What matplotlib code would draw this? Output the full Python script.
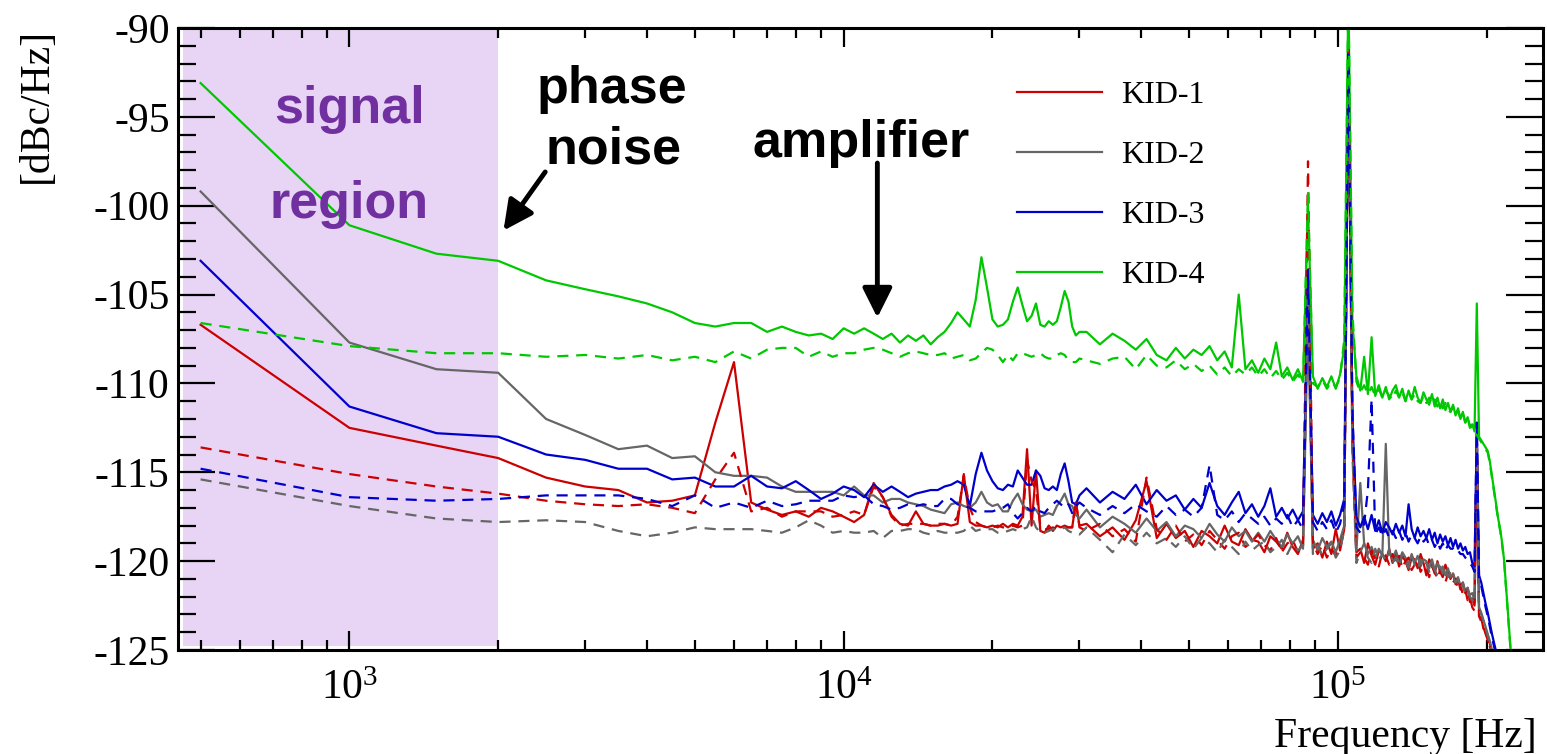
import numpy as np
import matplotlib
matplotlib.use("Agg")
import matplotlib.pyplot as plt
from matplotlib.ticker import MultipleLocator, LogLocator, NullFormatter, FixedLocator, FixedFormatter
from matplotlib.lines import Line2D

plt.rcParams['font.family'] = ['Liberation Serif', 'DejaVu Serif']
plt.rcParams['mathtext.fontset'] = 'custom'
plt.rcParams['mathtext.rm'] = 'Liberation Serif'
plt.rcParams['mathtext.it'] = 'Liberation Serif:italic'
plt.rcParams['mathtext.bf'] = 'Liberation Serif:bold'
plt.rcParams['axes.unicode_minus'] = False

# ---------------------------------------------------------------- data
# frequency grid [Hz]: 500 Hz bins up to 30 kHz, 2 kHz bins above
freq_low = np.arange(500, 30001, 500)
freq_high = np.arange(31000, 250000, 2000)

series_labels = ["KID-1", "KID-2", "KID-3", "KID-4"]
x_tick_values = [1e3, 1e4, 1e5]
x_tick_labels = [r"$10^{3}$", r"$10^{4}$", r"$10^{5}$"]

# noise spectra [dBc/Hz]; solid = on resonance, dashed = off resonance
kid1_solid_low = [
    -106.7, -112.5, -113.5, -114.2, -115.3, -115.8, -116.0, -116.7, -116.6, -116.3,
    -112.2, -108.8, -116.7, -117.1, -117.4, -117.2, -117.5, -117.0, -117.2, -117.5,
    -117.8, -117.4, -115.6, -116.4, -117.4, -117.9, -118.0, -117.2, -117.9, -118.0,
    -118.0, -117.9, -118.0, -117.9, -115.1, -117.8, -118.0, -118.0, -118.1, -118.0,
    -118.1, -117.9, -118.1, -117.9, -118.0, -117.5, -113.7, -118.0, -114.9, -118.3,
    -118.4, -118.0, -118.3, -118.0, -118.1, -118.0, -118.1, -118.1, -116.7, -118.0]
kid1_solid_high = [
    -117.9, -118.6, -118.1, -118.8, -117.7, -115.5, -118.7, -117.9, -118.7, -118.3,
    -119.2, -118.3, -118.6, -119.0, -118.0, -118.9, -119.1, -118.2, -118.8, -118.9,
    -119.5, -118.6, -118.9, -119.3, -118.4, -119.2, -119.6, -118.8, -104.5, -119.3,
    -119.0, -119.8, -118.9, -119.6, -118.2, -119.4, -118.2, -91.5, -113.5, -119.5,
    -119.3, -120.1, -119.0, -119.7, -120.2, -119.4, -119.6, -120.0, -119.3, -120.1,
    -119.5, -120.3, -119.7, -120.0, -120.5, -119.8, -119.9, -120.4, -119.6, -120.1,
    -120.8, -119.9, -120.2, -120.7, -120.0, -120.6, -120.9, -120.2, -120.6, -121.0,
    -120.7, -121.3, -121.0, -121.6, -121.2, -121.8, -121.5, -122.3, -122.1, -122.5,
    -113.5, -123.1, -123.2, -123.8, -123.9, -124.5, -124.6, -125.3, -125.6, -126.1,
    -126.7, -127.3, -127.9, -128.5, -129.1, -129.7, -130.3, -130.9, -131.5, -132.1,
    -132.7, -133.3, -133.9, -134.5, -135.1, -135.7, -136.3, -136.9, -137.5, -138.1]
kid1_dash_low = [
    -113.6, -115.1, -115.8, -116.2, -116.6, -116.8, -116.9, -116.8, -117.0, -117.3,
    -115.4, -113.9, -117.2, -117.0, -117.5, -117.2, -117.2, -117.2, -117.5, -117.4,
    -117.2, -117.4, -115.8, -116.4, -117.5, -118.0, -117.9, -117.9, -117.9, -118.0,
    -117.9, -117.9, -118.0, -117.5, -115.2, -117.0, -117.8, -118.0, -118.1, -118.1,
    -118.0, -118.1, -118.1, -118.0, -118.1, -118.0, -114.3, -115.5, -116.0, -118.0,
    -118.2, -118.2, -118.1, -118.2, -118.1, -118.1, -118.1, -118.1, -116.6, -118.1]
kid1_dash_high = [
    -118.3, -117.9, -118.6, -118.2, -118.9, -115.3, -118.2, -118.8, -118.0, -118.9,
    -118.5, -119.1, -118.3, -118.8, -119.3, -118.6, -118.4, -119.2, -118.9, -118.5,
    -119.1, -119.4, -118.7, -119.5, -119.0, -118.8, -119.5, -119.2, -97.5, -119.0,
    -119.6, -119.1, -119.8, -119.3, -119.7, -119.1, -118.3, -91.2, -113.0, -119.8,
    -119.5, -119.8, -120.2, -119.4, -119.9, -120.3, -119.5, -119.7, -120.2, -119.6,
    -120.1, -119.7, -120.4, -120.0, -119.8, -120.5, -120.2, -119.9, -120.6, -120.3,
    -120.4, -120.9, -120.3, -120.6, -121.0, -120.5, -120.8, -121.2, -120.7, -121.1,
    -121.2, -121.0, -121.6, -121.3, -121.9, -121.6, -122.2, -122.0, -122.6, -122.8,
    -113.0, -123.1, -123.4, -123.7, -124.1, -124.4, -124.8, -125.2, -125.7, -126.2,
    -126.8, -127.4, -128.0, -128.6, -129.2, -129.8, -130.4, -131.0, -131.6, -132.2,
    -132.8, -133.4, -134.0, -134.6, -135.2, -135.8, -136.4, -137.0, -137.6, -138.2]

kid2_solid_low = [
    -99.2, -107.7, -109.2, -109.4, -112.0, -112.9, -113.7, -113.5, -114.2, -114.1,
    -115.0, -115.2, -115.2, -115.3, -115.8, -116.1, -116.1, -116.1, -116.1, -116.3,
    -115.8, -116.3, -116.3, -116.7, -116.5, -116.5, -116.7, -116.8, -116.9, -117.1,
    -117.2, -117.3, -116.8, -116.7, -116.9, -117.0, -116.7, -116.1, -116.7, -116.9,
    -116.8, -117.2, -117.2, -116.6, -116.2, -116.8, -117.1, -117.2, -117.1, -117.5,
    -117.4, -117.3, -117.4, -116.9, -116.6, -116.2, -116.8, -116.9, -117.4, -117.6]
kid2_solid_high = [
    -117.1, -118.1, -117.5, -117.9, -118.4, -117.6, -118.3, -117.8, -118.6, -118.0,
    -118.2, -118.7, -117.9, -118.5, -118.9, -118.1, -118.6, -118.3, -118.9, -118.4,
    -118.9, -118.3, -118.8, -119.2, -118.5, -119.0, -118.6, -119.3, -106.0, -118.8,
    -119.4, -118.7, -119.2, -118.9, -119.5, -118.8, -118.0, -91.8, -113.0, -119.4,
    -115.6, -119.0, -119.6, -119.2, -119.8, -119.3, -119.7, -113.4, -119.5, -119.9,
    -119.4, -120.0, -119.5, -119.8, -120.2, -119.6, -120.1, -119.7, -120.3, -119.9,
    -120.0, -120.4, -119.9, -120.5, -120.1, -120.6, -120.3, -120.8, -120.4, -120.9,
    -120.7, -121.1, -120.9, -121.4, -121.2, -121.7, -121.5, -121.9, -121.8, -122.2,
    -112.8, -122.6, -122.9, -123.3, -123.7, -124.1, -124.5, -125.0, -125.5, -126.0,
    -126.6, -127.2, -127.8, -128.4, -129.0, -129.6, -130.2, -130.8, -131.4, -132.0,
    -132.6, -133.2, -133.8, -134.4, -135.0, -135.6, -136.2, -136.8, -137.4, -138.0]
kid2_dash_low = [
    -115.4, -116.9, -117.6, -117.8, -117.7, -117.8, -118.3, -118.6, -118.4, -118.1,
    -118.2, -118.2, -118.2, -118.3, -118.4, -118.1, -117.7, -118.0, -118.4, -118.3,
    -118.4, -118.4, -118.3, -118.7, -118.3, -118.3, -118.2, -118.2, -118.4, -118.5,
    -118.3, -118.4, -118.4, -118.4, -118.3, -118.0, -118.3, -118.2, -118.2, -118.2,
    -118.4, -118.4, -118.3, -118.2, -118.3, -118.2, -118.1, -117.5, -118.1, -118.4,
    -118.4, -118.3, -118.2, -118.2, -118.2, -118.1, -118.3, -118.4, -118.4, -118.5]
kid2_dash_high = [
    -118.1, -118.8, -119.5, -118.5, -119.1, -118.4, -119.0, -118.7, -119.2, -118.6,
    -119.3, -118.7, -119.0, -119.5, -118.8, -119.2, -119.6, -118.9, -119.4, -119.1,
    -118.9, -119.5, -119.2, -118.8, -119.6, -119.0, -119.4, -119.1, -105.0, -119.6,
    -119.1, -119.7, -119.3, -119.0, -119.8, -119.4, -118.2, -91.8, -114.0, -120.1,
    -119.5, -119.0, -119.8, -120.1, -119.3, -119.9, -119.6, -120.0, -119.4, -120.1,
    -119.8, -120.3, -119.6, -120.0, -120.4, -119.7, -120.2, -120.5, -119.9, -120.3,
    -120.1, -120.6, -120.2, -120.5, -120.8, -120.3, -120.7, -120.4, -120.9, -120.6,
    -120.9, -121.2, -121.0, -121.5, -121.3, -121.8, -121.6, -122.0, -122.2, -122.4,
    -112.9, -122.7, -123.0, -123.4, -123.8, -124.2, -124.6, -125.1, -125.6, -126.1,
    -126.7, -127.3, -127.9, -128.5, -129.1, -129.7, -130.3, -130.9, -131.5, -132.1,
    -132.7, -133.3, -133.9, -134.5, -135.1, -135.7, -136.3, -136.9, -137.5, -138.1]

kid3_solid_low = [
    -103.1, -111.3, -112.8, -113.0, -114.0, -114.3, -114.8, -114.8, -115.4, -115.3,
    -115.8, -115.8, -115.2, -115.8, -115.9, -115.5, -116.0, -116.5, -116.2, -115.8,
    -116.0, -116.4, -115.7, -116.1, -115.8, -116.1, -116.4, -116.2, -116.1, -116.0,
    -116.0, -115.8, -115.7, -115.5, -115.7, -116.9, -115.1, -113.9, -114.9, -115.5,
    -115.9, -116.0, -115.7, -115.8, -114.9, -115.3, -115.7, -115.7, -114.9, -115.2,
    -115.9, -116.0, -115.8, -116.0, -115.1, -114.5, -115.5, -116.7, -116.8, -116.3]
kid3_solid_high = [
    -115.9, -116.7, -116.1, -116.5, -115.7, -116.8, -116.0, -116.6, -116.3, -117.1,
    -116.5, -117.0, -115.6, -116.9, -117.4, -116.7, -116.1, -117.3, -116.8, -117.5,
    -116.9, -115.9, -117.5, -117.0, -117.6, -117.1, -117.7, -117.2, -104.2, -117.4,
    -117.9, -117.3, -117.8, -117.2, -118.0, -117.4, -116.5, -91.5, -112.0, -117.5,
    -118.1, -117.5, -118.2, -117.4, -118.3, -117.7, -118.4, -117.8, -118.1, -118.5,
    -117.9, -118.4, -118.0, -118.6, -116.8, -118.2, -118.7, -118.1, -118.6, -118.3,
    -118.7, -118.2, -118.8, -118.4, -119.0, -118.5, -118.9, -118.6, -119.1, -118.7,
    -119.2, -118.8, -119.3, -119.0, -119.4, -119.2, -119.6, -119.5, -120.1, -120.3,
    -112.5, -120.8, -121.2, -121.8, -122.4, -122.9, -123.5, -124.1, -124.6, -125.1,
    -125.7, -126.3, -127.0, -127.7, -128.4, -129.0, -129.7, -130.4, -131.0, -131.7,
    -132.4, -133.1, -133.8, -134.5, -135.2, -135.9, -136.6, -137.3, -138.0, -138.7]
kid3_dash_low = [
    -114.8, -116.4, -116.6, -116.5, -116.3, -116.3, -116.3, -116.5, -116.9, -116.3,
    -117.0, -116.7, -117.0, -116.6, -116.9, -116.8, -116.6, -116.6, -116.6, -116.3,
    -116.4, -116.3, -116.8, -116.9, -117.1, -117.0, -116.8, -116.9, -116.8, -116.9,
    -116.9, -116.5, -116.5, -116.8, -116.9, -117.0, -117.2, -117.2, -117.2, -117.2,
    -117.1, -117.0, -116.8, -117.3, -117.6, -117.3, -117.0, -117.2, -116.9, -117.2,
    -117.3, -117.0, -116.8, -116.6, -116.8, -117.0, -116.8, -117.3, -116.9, -116.7]
kid3_dash_high = [
    -117.0, -117.4, -116.9, -117.3, -116.8, -117.2, -117.5, -116.9, -117.4, -117.1,
    -117.5, -117.0, -114.6, -117.4, -117.7, -117.2, -117.8, -117.3, -117.6, -117.9,
    -117.5, -118.0, -117.6, -117.9, -117.4, -118.1, -117.7, -118.2, -103.5, -117.8,
    -118.3, -117.8, -118.2, -117.7, -118.4, -117.9, -116.8, -91.5, -111.5, -118.1,
    -118.4, -117.9, -116.0, -110.9, -118.5, -118.1, -118.6, -118.2, -118.7, -118.3,
    -118.7, -118.3, -118.8, -118.4, -118.9, -118.5, -118.7, -119.0, -118.6, -118.9,
    -118.7, -119.1, -118.8, -119.2, -118.9, -119.3, -119.0, -119.4, -119.1, -119.3,
    -119.3, -119.5, -119.4, -119.6, -119.6, -119.8, -119.9, -120.1, -120.3, -120.6,
    -112.2, -121.0, -121.4, -122.0, -122.6, -123.1, -123.7, -124.3, -124.8, -125.3,
    -125.9, -126.5, -127.2, -127.9, -128.6, -129.2, -129.9, -130.6, -131.2, -131.9,
    -132.6, -133.3, -134.0, -134.7, -135.4, -136.1, -136.8, -137.5, -138.2, -138.9]

kid4_solid_low = [
    -93.1, -101.1, -102.7, -103.1, -104.2, -104.7, -105.1, -105.5, -106.0, -106.6,
    -106.8, -106.6, -106.6, -107.1, -106.8, -107.1, -107.3, -107.2, -107.5, -106.9,
    -107.2, -106.9, -107.2, -107.5, -107.2, -107.7, -107.3, -107.6, -107.3, -107.8,
    -107.4, -107.1, -106.6, -106.0, -106.4, -106.8, -105.3, -102.9, -104.6, -106.4,
    -106.8, -106.7, -106.4, -105.4, -104.6, -105.6, -106.5, -106.2, -105.5, -106.7,
    -106.8, -106.5, -106.7, -106.5, -105.7, -104.8, -105.4, -106.8, -107.3, -107.1]
kid4_solid_high = [
    -107.1, -107.8, -107.2, -107.6, -108.1, -107.5, -108.4, -108.7, -108.0, -108.6,
    -108.1, -108.4, -107.9, -108.7, -108.2, -109.1, -105.0, -109.2, -108.7, -109.4,
    -108.6, -109.2, -107.7, -109.6, -109.1, -109.8, -109.2, -109.9, -100.0, -109.6,
    -110.3, -109.7, -110.2, -109.6, -110.3, -109.5, -108.0, -88.0, -106.5, -109.6,
    -110.4, -108.5, -110.6, -107.4, -110.7, -110.1, -110.8, -110.2, -110.9, -110.4,
    -110.1, -110.8, -110.3, -111.0, -110.4, -110.9, -110.2, -110.8, -111.1, -110.5,
    -110.9, -111.2, -110.6, -111.3, -110.8, -111.4, -110.9, -111.5, -111.1, -111.6,
    -111.2, -111.8, -111.4, -112.0, -111.6, -112.2, -111.9, -112.4, -112.3, -112.7,
    -105.5, -113.0, -113.2, -113.4, -113.6, -113.8, -114.4, -115.2, -116.0, -116.8,
    -117.6, -118.2, -119.0, -120.0, -121.5, -123.0, -124.5, -126.0, -127.5, -129.0,
    -130.0, -131.0, -132.0, -133.0, -134.0, -135.0, -136.0, -137.0, -138.0, -139.0]
kid4_dash_low = [
    -106.6, -107.9, -108.3, -108.3, -108.5, -108.4, -108.6, -108.4, -108.7, -108.5,
    -108.8, -108.2, -108.6, -108.1, -108.0, -108.0, -108.5, -108.2, -108.5, -108.3,
    -108.3, -108.1, -108.0, -108.1, -108.3, -108.5, -108.3, -108.2, -108.3, -108.4,
    -108.4, -108.3, -108.6, -108.5, -108.4, -108.7, -108.6, -108.3, -108.0, -108.1,
    -108.4, -108.8, -108.4, -108.7, -108.3, -108.3, -108.4, -108.5, -108.4, -108.3,
    -108.5, -108.6, -108.6, -108.4, -108.3, -108.4, -108.7, -108.8, -108.8, -108.6]
kid4_dash_high = [
    -108.7, -108.9, -108.6, -108.5, -109.2, -108.4, -109.0, -109.1, -108.7, -109.2,
    -108.9, -109.3, -109.0, -109.5, -109.1, -109.6, -109.2, -109.5, -109.1, -109.6,
    -109.2, -109.7, -109.3, -109.8, -109.4, -109.9, -109.5, -110.0, -99.3, -110.0,
    -110.2, -109.8, -110.3, -109.9, -110.2, -109.7, -107.5, -88.0, -106.0, -109.9,
    -110.5, -110.1, -110.6, -110.2, -110.7, -110.3, -110.8, -110.4, -110.7, -110.9,
    -110.4, -110.8, -110.5, -111.0, -110.5, -110.9, -110.6, -111.0, -111.1, -110.7,
    -111.1, -110.8, -111.2, -110.9, -111.3, -111.0, -111.4, -111.1, -111.5, -111.6,
    -111.3, -111.8, -111.5, -112.0, -111.7, -112.2, -111.9, -112.5, -112.4, -112.8,
    -112.9, -113.1, -113.3, -113.5, -113.7, -113.9, -114.5, -115.3, -116.1, -116.9,
    -117.7, -118.3, -119.1, -120.1, -121.6, -123.1, -124.6, -126.1, -127.6, -129.1,
    -130.1, -131.1, -132.1, -133.1, -134.1, -135.1, -136.1, -137.1, -138.1, -139.1]

# ---------------------------------------------------------------- style
colors = ["#cc0000", "#666666", "#0000cc", "#00c800"]
solid_sets = [kid1_solid_low + kid1_solid_high, kid2_solid_low + kid2_solid_high,
              kid3_solid_low + kid3_solid_high, kid4_solid_low + kid4_solid_high]
dash_sets = [kid1_dash_low + kid1_dash_high, kid2_dash_low + kid2_dash_high,
             kid3_dash_low + kid3_dash_high, kid4_dash_low + kid4_dash_high]
freq = np.concatenate([freq_low, freq_high])

W, H = 1547, 754
fig = plt.figure(figsize=(W / 100, H / 100), dpi=100)
ax = fig.add_axes([178 / W, 1 - 650 / H, (1543 - 178) / W, (650 - 28) / H])
ax.set_xscale("log")
ax.set_xlim(450, 260000)
ax.set_ylim(-125, -90)

# signal band
ax.axvspan(460, 2000, ymin=0.006, ymax=1.0, facecolor="#e8d4f5", edgecolor="none", zorder=0)

lw = 1.6
for y, c in zip(solid_sets, colors):
    n = min(len(freq), len(y))
    ax.plot(freq[:n], y[:n], color=c, lw=lw, zorder=2)
for y, c in zip(dash_sets, colors):
    n = min(len(freq), len(y))
    ax.plot(freq[:n], y[:n], color=c, lw=lw, dashes=(5, 3.5), zorder=2)

# axes cosmetics
for s in ax.spines.values():
    s.set_linewidth(2.2)
    s.set_zorder(5)
ax.xaxis.set_major_locator(FixedLocator(x_tick_values))
ax.xaxis.set_major_formatter(FixedFormatter(x_tick_labels))
ax.xaxis.set_minor_locator(LogLocator(base=10, subs=np.arange(2, 10)))
ax.xaxis.set_minor_formatter(NullFormatter())
ax.yaxis.set_major_locator(MultipleLocator(5))
ax.yaxis.set_minor_locator(MultipleLocator(1))
ax.tick_params(which="both", direction="in", top=True, right=True, width=1.6, labelsize=30, colors="black")
ax.tick_params(axis="y", which="major", length=26.5, pad=6)
ax.tick_params(axis="y", which="minor", length=13)
ax.tick_params(axis="x", which="major", length=13.5, pad=14)
ax.tick_params(axis="x", which="minor", length=7)
for lab in ax.get_yticklabels() + ax.get_xticklabels():
    lab.set_fontfamily(["Liberation Serif", "DejaVu Serif"])

fig.text(1537 / W, 1 - 747 / H, "Frequency [Hz]", ha="right", va="baseline", fontsize=30)
fig.text(37 / W, 1 - 28 / H, "[dBc/Hz]", rotation=90, ha="center", va="top", fontsize=30)

# legend (solid lines only)
handles = [Line2D([0], [0], color=c, lw=lw) for c in colors]
ax.legend(handles, series_labels, loc="upper left", bbox_to_anchor=(0.6147, 0.915),
          frameon=False, fontsize=23, handlelength=2.66, handletextpad=0.6,
          labelspacing=0.955, borderpad=0, borderaxespad=0)

# annotations
sans = ["Liberation Sans", "DejaVu Sans"]
purple = "#7030a0"
ax.text(1000, -95.35, "signal", ha="center", va="baseline", fontsize=37.5,
        fontweight="bold", family=sans, color=purple, zorder=3)
ax.text(1000, -100.7, "region", ha="center", va="baseline", fontsize=37.5,
        fontweight="bold", family=sans, color=purple, zorder=3)
ax.text(3400, -94.2, "phase", ha="center", va="baseline", fontsize=37.5,
        fontweight="bold", family=sans, color="black", zorder=3)
ax.text(3430, -97.6, "noise", ha="center", va="baseline", fontsize=37.5,
        fontweight="bold", family=sans, color="black", zorder=3)
ax.text(10840, -97.26, "amplifier", ha="center", va="baseline", fontsize=37.5,
        fontweight="bold", family=sans, color="black", zorder=3)

arrow_kw = dict(arrowstyle="-|>,head_length=0.9,head_width=0.45", lw=3.5, color="black",
                shrinkA=0, shrinkB=0, mutation_scale=20)
ax.annotate("", xy=(2050, -101.4), xytext=(2490, -98.1), arrowprops=arrow_kw, zorder=4)
ax.annotate("", xy=(11700, -106.3), xytext=(11700, -97.6), arrowprops=arrow_kw, zorder=4)

fig.savefig("out.png", dpi=100)
